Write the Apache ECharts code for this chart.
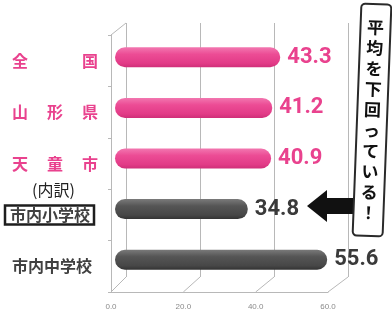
<!DOCTYPE html>
<html><head><meta charset="utf-8">
<script src="https://cdn.jsdelivr.net/npm/echarts@6/dist/echarts.min.js"></script>
<style>html,body{margin:0;padding:0;background:#fff}#c{width:392px;height:322px}</style>
</head><body><div id="c"></div><script>
// ---- data ----
const categories = ['全国', '山形県', '天童市', '市内小学校', '市内中学校'];
const values = [43.3, 41.2, 40.9, 34.8, 55.6];
const isRegion = [true, true, true, false, false];
const boxedIndex = 3;
const xMin = 0, xMax = 60, xStep = 20;
const tickLabels = ['0.0', '20.0', '40.0', '60.0'];
const subNote = '(内訳)';
const calloutText = '平均を下回っている！';

// ---- layout / style ----
const PINK = '#e9428e', GRAY = '#3f3f3f', LINE = '#b8b8b8';
const JP = '"Noto Sans CJK JP", sans-serif';
const back = {left: 126, top: 23, width: 222, height: 254};
const front = {left: 111, top: 35, width: 217, height: 257};
const bars = {left: 115, top: 32, width: 229, height: 253};

const chart = echarts.init(document.getElementById('c'), null, {renderer: 'canvas'});

function catLabel(v) {
  const i = categories.indexOf(v);
  if (isRegion[i]) {
    const ch = Array.from(v);
    const slots = ch.length >= 3 ? ch : [ch[0], '　', ch[ch.length - 1]];
    return '{s| }' + slots.map(c => '{p|' + c + '}').join('');
  }
  if (i === boxedIndex) return '{b|' + v + '}';
  return '{s| }{g|' + v + '}';
}

const pinkGrad = new echarts.graphic.LinearGradient(0, 0, 0, 1, [
  {offset: 0, color: '#f277b0'}, {offset: 0.35, color: '#ec4c95'},
  {offset: 0.8, color: '#e23b87'}, {offset: 1, color: '#cf2f78'}]);
const grayGrad = new echarts.graphic.LinearGradient(0, 0, 0, 1, [
  {offset: 0, color: '#7a7a7a'}, {offset: 0.35, color: '#555555'},
  {offset: 0.8, color: '#474747'}, {offset: 1, color: '#333333'}]);

const option = {
  animation: false,
  backgroundColor: '#fff',
  grid: [
    Object.assign({containLabel: false}, back),
    Object.assign({containLabel: false}, front),
    Object.assign({containLabel: false}, bars)
  ],
  xAxis: [
    {gridIndex: 0, type: 'value', min: xMin, max: xMax, interval: xStep,
      axisLine: {show: false}, axisTick: {show: false}, axisLabel: {show: false},
      splitLine: {show: true, lineStyle: {color: LINE, width: 1}}},
    {gridIndex: 1, type: 'value', min: xMin, max: xMax, interval: xStep,
      axisLine: {show: true, lineStyle: {color: LINE, width: 1}}, axisTick: {show: false},
      splitLine: {show: false},
      axisLabel: {show: true, margin: 11, fontSize: 8, color: '#8a8a8a', fontFamily: 'Liberation Sans',
        formatter: v => tickLabels[Math.round((v - xMin) / xStep)]}},
    {gridIndex: 2, type: 'value', min: xMin, max: xMax, show: false}
  ],
  yAxis: [
    {gridIndex: 0, type: 'category', data: categories, inverse: true, show: false},
    {gridIndex: 1, type: 'category', data: categories, inverse: true,
      axisLine: {show: true, lineStyle: {color: LINE, width: 1}},
      axisTick: {show: true, length: 3, lineStyle: {color: LINE}},
      splitLine: {show: false},
      axisLabel: {show: true, margin: 106, align: 'left', formatter: catLabel,
        rich: {
          s: {width: 7},
          p: {width: 35, fontSize: 16, fontWeight: 'bold', color: PINK, fontFamily: JP},
          g: {fontSize: 16, fontWeight: 'bold', color: '#404040', fontFamily: JP},
          b: {fontSize: 16, fontWeight: 'bold', color: '#404040', fontFamily: JP,
            borderColor: '#1e1e1e', borderWidth: 2.5, padding: [2, 4, 1, 5]}
        }}},
    {gridIndex: 2, type: 'category', data: categories, inverse: true, show: false}
  ],
  series: [{
    type: 'bar', xAxisIndex: 2, yAxisIndex: 2, barWidth: 20,
    data: values.map((v, i) => ({
      value: v,
      itemStyle: {color: isRegion[i] ? pinkGrad : grayGrad, borderRadius: 10},
      label: {color: isRegion[i] ? PINK : '#3a3a3a'}
    })),
    label: {show: true, position: 'right', distance: 7, fontSize: 22, fontWeight: 'bold',
      fontFamily: 'Roboto, sans-serif', formatter: p => p.value.toFixed(1)}
  }]
};
chart.setOption(option);

// 3D frame decorations, derived from the two axes
const g = [];
const lineStyle = {stroke: LINE, lineWidth: 1};
const fb = front.top + front.height, bb = back.top + back.height;
for (let v = xMin; v <= xMax; v += xStep) {
  const fx = chart.convertToPixel({xAxisIndex: 1}, v);
  const bx = chart.convertToPixel({xAxisIndex: 0}, v);
  g.push({type: 'line', shape: {x1: fx, y1: fb, x2: bx, y2: bb}, style: lineStyle, silent: true});
}
g.push({type: 'line', shape: {x1: front.left, y1: front.top, x2: back.left, y2: back.top}, style: lineStyle});

// (内訳) above boxed label
const yBox = chart.convertToPixel({yAxisIndex: 1}, categories[boxedIndex]);
g.push({type: 'text', x: 32, y: yBox - 25, style: {text: subNote, fontSize: 16, fontFamily: JP,
  fill: '#222', verticalAlign: 'middle', align: 'left'}});

// arrow pointing at the below-average bar
const yA = chart.convertToPixel({yAxisIndex: 2}, categories[boxedIndex]) - 3;
g.push({type: 'polygon', shape: {points: [[307, yA], [327, yA - 16], [327, yA - 8], [360, yA - 8],
  [360, yA + 8], [327, yA + 8], [327, yA + 16]]}, style: {fill: '#111'}});

// callout box
g.push({type: 'group', x: 372, y: 120, rotation: -0.038, children: [
  {type: 'rect', shape: {x: -15, y: -116, width: 30, height: 232, r: 4},
    style: {fill: '#fff', stroke: '#2a2a2a', lineWidth: 2}},
  {type: 'text', x: 0, y: 0, style: {text: Array.from(calloutText).join('\n'), fontSize: 17,
    fontWeight: 'bold', fontFamily: JP, fill: '#111', align: 'center', verticalAlign: 'middle',
    lineHeight: 20.6}}
]});
chart.setOption({graphic: g});
</script></body></html>
